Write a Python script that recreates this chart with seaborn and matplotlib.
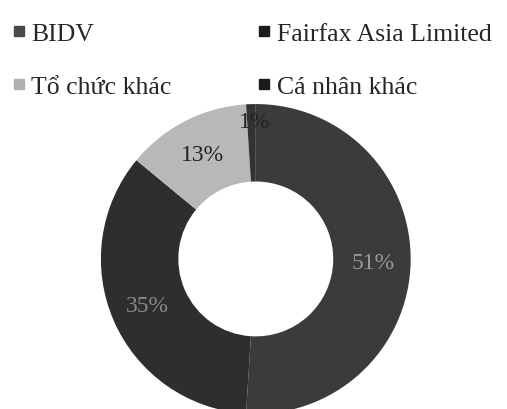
import matplotlib
matplotlib.use("Agg")
import matplotlib.pyplot as plt
import seaborn as sns
from matplotlib.lines import Line2D

# shareholder structure
labels = ["BIDV", "Fairfax Asia Limited", "Tổ chức khác", "Cá nhân khác"]
shares = [51, 35, 13, 1]
colors = ["#3b3b3b", "#2e2e2e", "#b8b8b8", "#333333"]
legend_colors = ["#4a4a4a", "#1c1c1c", "#b0b0b0", "#1c1c1c"]
pct_colors = ["#9a9a9a", "#8a8a8a", "#222222", "#cfcfcf"]

sns.set_theme(style="white")
plt.rcParams["font.family"] = ["Liberation Serif", "DejaVu Serif"]

fig = plt.figure(figsize=(5.07, 4.10), dpi=100)
fig.patch.set_facecolor("white")

# donut axes, centre at (256, 260) px from top, radius ~155 px
ax = fig.add_axes([0.199, -0.012, 0.611, 0.756])
wedges, texts, autotexts = ax.pie(
    shares,
    colors=colors,
    startangle=90,
    counterclock=False,
    autopct="%d%%",
    pctdistance=0.76,
    radius=1.0,
    wedgeprops=dict(width=0.5, linewidth=0),
    textprops=dict(fontsize=17),
)
for t, c in zip(autotexts, pct_colors):
    t.set_color(c)
# small slice label sits on the slice edge like the original
autotexts[3].set_position((-0.01, 0.89))
autotexts[3].set_color("#222222")
ax.set_xlim(-1, 1)
ax.set_ylim(-1, 1)
ax.set_aspect("equal")
ax.axis("off")

# legend is laid out row by row: BIDV | Fairfax, Tổ chức khác | Cá nhân khác
order = [0, 2, 1, 3]
handles = [Line2D([0], [0], marker="s", linestyle="", markersize=7,
                  markerfacecolor=legend_colors[i], markeredgecolor=legend_colors[i])
           for i in order]
fig.legend(handles, [labels[i] for i in order], ncol=2, loc="upper left",
           bbox_to_anchor=(-0.02, 1.0), frameon=False,
           fontsize=18.5, handlelength=0.45, handletextpad=0.25,
           columnspacing=3.4, labelspacing=1.15)

fig.savefig("out.png", dpi=100, facecolor="white")
